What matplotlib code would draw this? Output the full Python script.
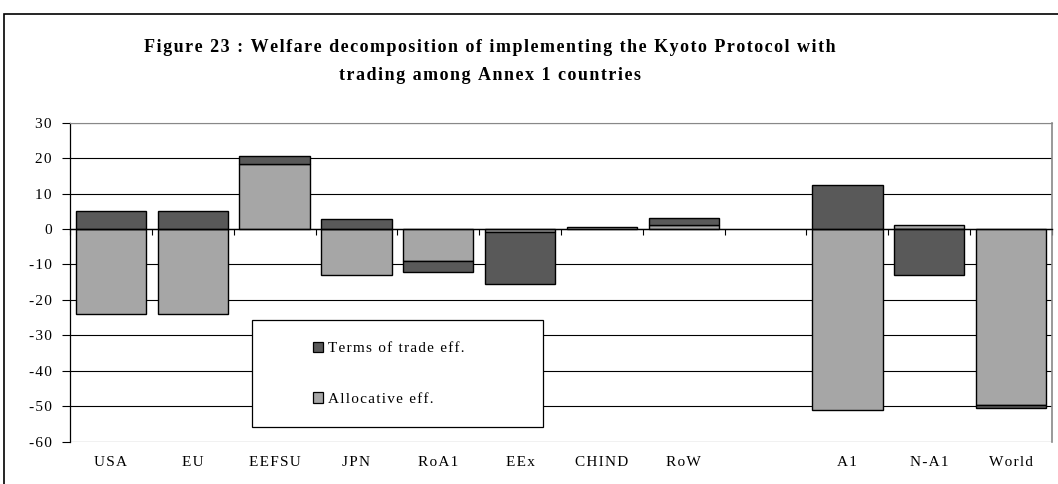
import matplotlib
matplotlib.use("Agg")
import matplotlib.pyplot as plt
from matplotlib.patches import Rectangle, Patch
import numpy as np

categories = ["USA", "EU", "EEFSU", "JPN", "RoA1", "EEx", "CHIND", "RoW", "", "A1", "N-A1", "World"]
allocative = [-24.0, -24.0, 18.4, -13.0, -9.0, -0.7, 0.6, 1.0, 0.0, -51.0, 1.0, -49.6]
terms_of_trade = [5.0, 5.0, 2.2, 2.8, -3.0, -14.8, 0.0, 2.2, 0.0, 12.4, -13.0, -0.8]
series_labels = ["Terms of trade eff.", "Allocative eff."]
yticks = [30, 20, 10, 0, -10, -20, -30, -40, -50, -60]
title_lines = ["Figure 23 : Welfare decomposition of implementing the Kyoto Protocol with",
               "trading among Annex 1 countries"]

DARK = "#595959"
LIGHT = "#a6a6a6"
serif = ["Liberation Serif", "DejaVu Serif"]
plt.rcParams["font.family"] = serif


def spaced(s):
    return "\u200a".join(s)


W, H = 1058, 484
fig = plt.figure(figsize=(W / 100, H / 100), dpi=100)
ax = fig.add_axes([70 / W, 1 - 441.7 / H, (1052 - 70) / W, (441.7 - 122.7) / H])

x = np.arange(len(categories))
alloc = np.array(allocative)
tot = np.array(terms_of_trade)

# Excel-style stacking: positives stack up, negatives stack down, in series order
pos_base = np.zeros(len(x))
neg_base = np.zeros(len(x))
bw = 0.86
for vals, col in [(alloc, LIGHT), (tot, DARK)]:
    bottoms = np.where(vals >= 0, pos_base, neg_base)
    mask = np.array([c != "" for c in categories]) & (vals != 0)
    ax.bar(x[mask], vals[mask], bottom=bottoms[mask], width=bw, color=col,
           edgecolor="black", linewidth=1.0, zorder=3)
    pos_base = pos_base + np.where(vals > 0, vals, 0)
    neg_base = neg_base + np.where(vals < 0, vals, 0)

ax.set_xlim(-0.5, len(categories) - 0.5)
ax.set_ylim(-60, 30)
ax.set_yticks(yticks)
ax.set_yticklabels([spaced(str(t)) for t in yticks], fontsize=11)
ax.tick_params(axis="y", direction="out", length=6, width=0.8, pad=7, color="black")

# gridlines
for t in yticks:
    ax.axhline(t, color="black", linewidth=0.8, zorder=1)

# x axis at zero with boundary ticks
ax.spines["bottom"].set_position(("data", 0))
ax.spines["bottom"].set_linewidth(1.0)
ax.spines["bottom"].set_zorder(4)
ax.set_xticks(np.arange(len(categories) + 1) - 0.5)
ax.set_xticklabels([])
ax.tick_params(axis="x", direction="out", length=4, width=0.8)
ax.spines["left"].set_linewidth(0.9)
ax.spines["top"].set_color("#888888")
ax.spines["right"].set_color("#888888")
ax.spines["right"].set_linewidth(1.2)

for xi, c in zip(x, categories):
    if c:
        ax.text(xi, -0.065, spaced(c), transform=ax.get_xaxis_transform(), ha="center",
                va="center", fontsize=11)

# legend
fig.patches.append(Rectangle((252 / W, 1 - 427 / H), (543 - 252) / W, (427 - 320) / H,
                             transform=fig.transFigure, facecolor="white",
                             edgecolor="black", linewidth=0.9, zorder=5))
handles = [Patch(facecolor=DARK, edgecolor="black", linewidth=0.9),
           Patch(facecolor=LIGHT, edgecolor="black", linewidth=0.9)]
leg = fig.legend(handles, [spaced(s) for s in series_labels], loc="upper left",
                 bbox_to_anchor=(305 / W, 1 - 334 / H), frameon=False,
                 fontsize=11, handlelength=0.7, handleheight=0.7,
                 handletextpad=0.3, labelspacing=2.4, borderpad=0)
leg.set_zorder(6)

# titles
fig.text(490 / W, 1 - 47 / H, spaced(title_lines[0]), ha="center", va="center",
         fontsize=13, fontweight="bold")
fig.text(490 / W, 1 - 75 / H, spaced(title_lines[1]), ha="center", va="center",
         fontsize=13, fontweight="bold")

# outer chart frame
fig.patches.append(Rectangle((4 / W, -0.2), 1.5, 1.2 - 14 / H, transform=fig.transFigure,
                             fill=False, edgecolor="black", linewidth=1.2))

fig.savefig("out.png", dpi=100)
